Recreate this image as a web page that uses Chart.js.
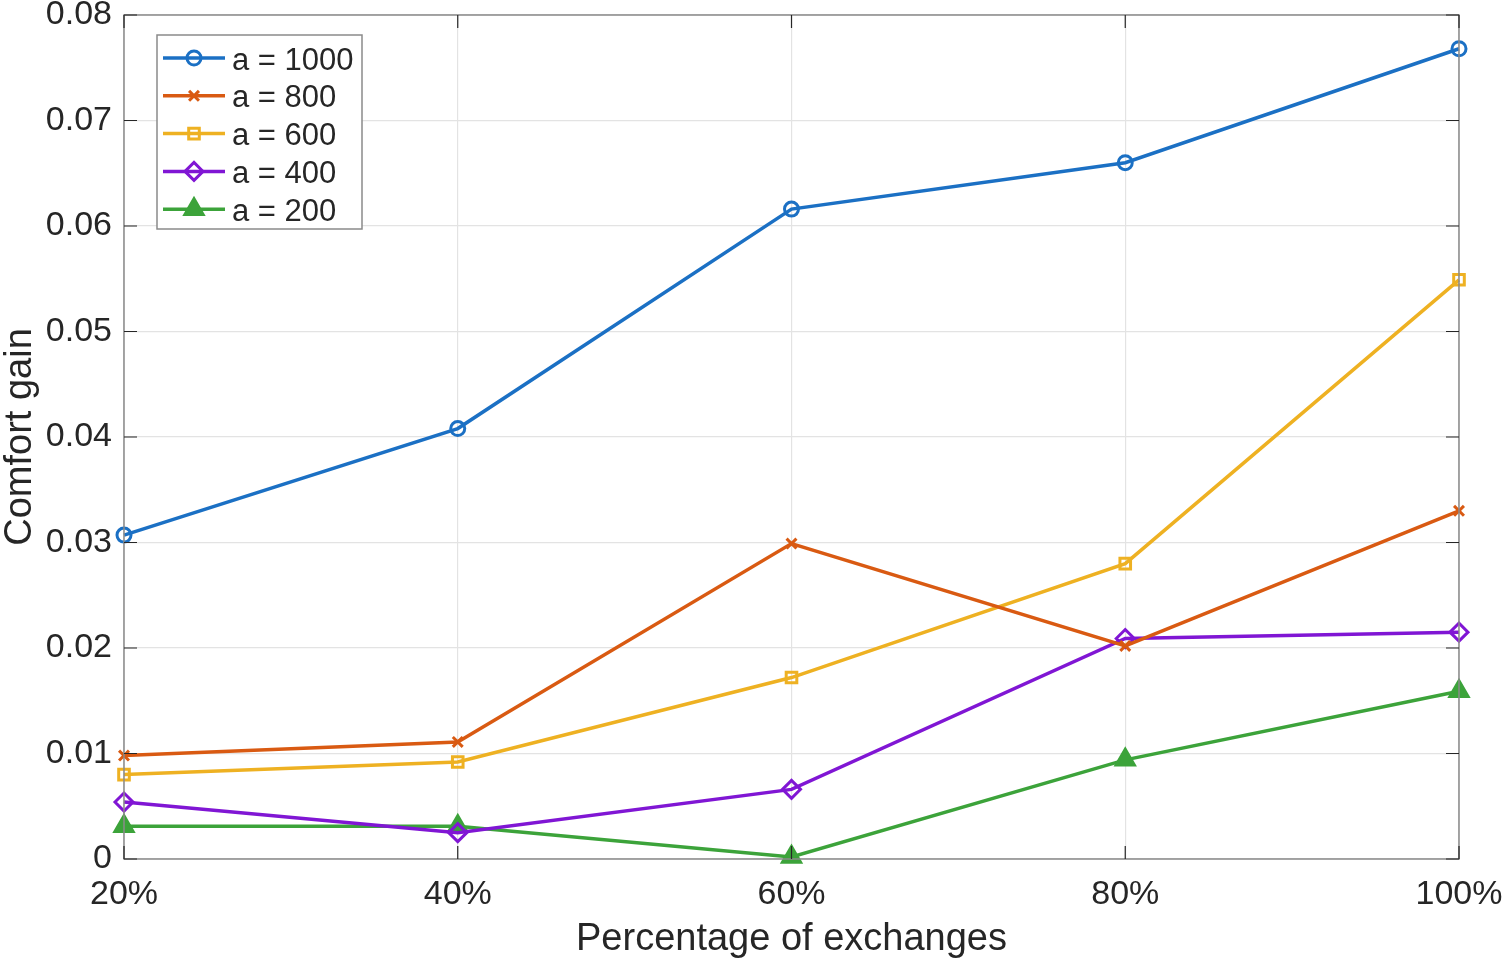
<!DOCTYPE html>
<html>
<head>
<meta charset="utf-8">
<script src="https://cdn.jsdelivr.net/npm/chart.js@4.4.1/dist/chart.umd.min.js"></script>
<style>
  html, body { margin: 0; padding: 0; background: #fff; }
  #wrap { width: 1506px; height: 960px; }
</style>
</head>
<body>
<div id="wrap"><canvas id="chart"></canvas></div>
<script>
// Data
const categories = ['20%', '40%', '60%', '80%', '100%'];
const seriesNames = ['a = 1000', 'a = 800', 'a = 600', 'a = 400', 'a = 200'];
const a1000 = [0.0307, 0.0408, 0.0616, 0.0660, 0.0768];
const a800 = [0.0098, 0.0111, 0.0299, 0.0202, 0.0330];
const a600 = [0.0080, 0.0092, 0.0172, 0.0280, 0.0549];
const a400 = [0.0054, 0.0025, 0.0066, 0.0209, 0.0215];
const a200 = [0.0031, 0.0031, 0.0002, 0.0094, 0.0159];
const yTicks = [0, 0.01, 0.02, 0.03, 0.04, 0.05, 0.06, 0.07, 0.08];

const FONT = '"Liberation Sans", Arial, Helvetica, sans-serif';
const axisGray = '#8a8a8a';

// marker styles roughly matching the matlab ones
const styles = [
    { color: '#1b70c4', point: 'circle', radius: 7, fill: false },
    { color: '#d95a12', point: 'crossRot', radius: 7, fill: false },
    { color: '#eeb122', point: 'rect', radius: 7.5, fill: false },
    { color: '#8016d4', point: 'rectRot', radius: 9, fill: false },
    { color: '#3ca33a', point: 'triangle', radius: 10.5, fill: true }
];

const allValues = [a1000, a800, a600, a400, a200];

const datasets = allValues.map((vals, i) => ({
    label: seriesNames[i],
    data: vals,
    borderColor: styles[i].color,
    backgroundColor: styles[i].fill ? styles[i].color : 'rgba(0,0,0,0)',
    borderWidth: 3.5,
    pointStyle: styles[i].point,
    pointRadius: styles[i].radius,
    pointHoverRadius: styles[i].radius,
    pointBorderWidth: 3,
    pointBorderColor: styles[i].color,
    pointBackgroundColor: styles[i].fill ? styles[i].color : 'rgba(0,0,0,0)',
    tension: 0,
    clip: false
}));

// box around the axes plus inward ticks on all four sides
const boxPlugin = {
    id: 'matlabBox',
    afterDatasetsDraw(chart) {
        const { ctx, chartArea: a, scales } = chart;
        ctx.save();
        ctx.strokeStyle = axisGray;
        ctx.lineWidth = 1.5;
        ctx.strokeRect(a.left, a.top, a.right - a.left, a.bottom - a.top);
        ctx.strokeStyle = '#262626';
        ctx.lineWidth = 1.2;
        const tl = 13;
        ctx.beginPath();
        yTicks.forEach(v => {
            const y = scales.y.getPixelForValue(v);
            ctx.moveTo(a.left, y); ctx.lineTo(a.left + tl, y);
            ctx.moveTo(a.right, y); ctx.lineTo(a.right - tl, y);
        });
        categories.forEach((c, i) => {
            const x = scales.x.getPixelForValue(i);
            ctx.moveTo(x, a.bottom); ctx.lineTo(x, a.bottom - tl);
            ctx.moveTo(x, a.top); ctx.lineTo(x, a.top + tl);
        });
        ctx.stroke();
        ctx.restore();
    },
    afterDraw(chart) {
        // legend box in the upper left corner of the axes
        const { ctx, chartArea: a } = chart;
        const bx = a.left + 33, by = a.top + 20, bw = 205, bh = 194;
        ctx.save();
        ctx.fillStyle = '#fff';
        ctx.fillRect(bx, by, bw, bh);
        ctx.strokeStyle = axisGray;
        ctx.lineWidth = 1.5;
        ctx.strokeRect(bx, by, bw, bh);
        seriesNames.forEach((name, i) => {
            const y = by + 23 + i * 37.8;
            const st = styles[i];
            ctx.strokeStyle = st.color;
            ctx.lineWidth = 3.5;
            ctx.beginPath();
            ctx.moveTo(bx + 6, y);
            ctx.lineTo(bx + 68, y);
            ctx.stroke();
            ctx.lineWidth = 3;
            ctx.fillStyle = st.fill ? st.color : 'rgba(0,0,0,0)';
            Chart.helpers.drawPoint(ctx, {
                pointStyle: st.point,
                radius: st.radius,
                rotation: 0,
                borderWidth: 3
            }, bx + 37, y);
            ctx.fillStyle = '#262626';
            ctx.font = '31px ' + FONT;
            ctx.textBaseline = 'middle';
            ctx.textAlign = 'left';
            ctx.fillText(name, bx + 75, y + 3);
        });
        ctx.restore();
    }
};

const ctx = document.getElementById('chart').getContext('2d');
new Chart(ctx, {
    type: 'line',
    data: { labels: categories, datasets: datasets },
    options: {
        responsive: true,
        maintainAspectRatio: false,
        animation: false,
        layout: { padding: { top: 15, right: 47, left: 0, bottom: 0 } },
        plugins: {
            legend: { display: false },
            tooltip: { enabled: false }
        },
        scales: {
            x: {
                type: 'category',
                offset: false,
                grid: { display: true, offset: false, color: '#e3e3e3', lineWidth: 1.2, drawTicks: false },
                border: { display: false },
                ticks: {
                    color: '#262626',
                    font: { family: FONT, size: 34 },
                    padding: 15,
                    maxRotation: 0,
                    autoSkip: false
                },
                title: {
                    display: true,
                    text: 'Percentage of exchanges',
                    color: '#262626',
                    font: { family: FONT, size: 38, lineHeight: 1 },
                    padding: { top: 0, bottom: 1 }
                },
                afterFit(scale) {
                    scale.height = 101;
                    scale.paddingLeft = 0;
                    scale.paddingRight = 0;
                }
            },
            y: {
                min: 0,
                max: 0.08,
                grid: { color: '#e3e3e3', lineWidth: 1.2, drawTicks: false },
                border: { display: false },
                ticks: {
                    stepSize: 0.01,
                    color: '#262626',
                    font: { family: FONT, size: 34 },
                    padding: 12,
                    callback: v => (v === 0 ? '0' : v.toFixed(2))
                },
                afterBuildTicks(scale) {
                    scale.ticks = yTicks.map(v => ({ value: v }));
                },
                title: {
                    display: true,
                    text: 'Comfort gain',
                    color: '#262626',
                    font: { family: FONT, size: 38, lineHeight: 1 },
                    padding: { top: 2, bottom: 0 }
                },
                afterFit(scale) {
                    scale.width = 124;
                    scale.paddingTop = 0;
                    scale.paddingBottom = 0;
                }
            }
        }
    },
    plugins: [boxPlugin]
});
</script>
</body>
</html>
